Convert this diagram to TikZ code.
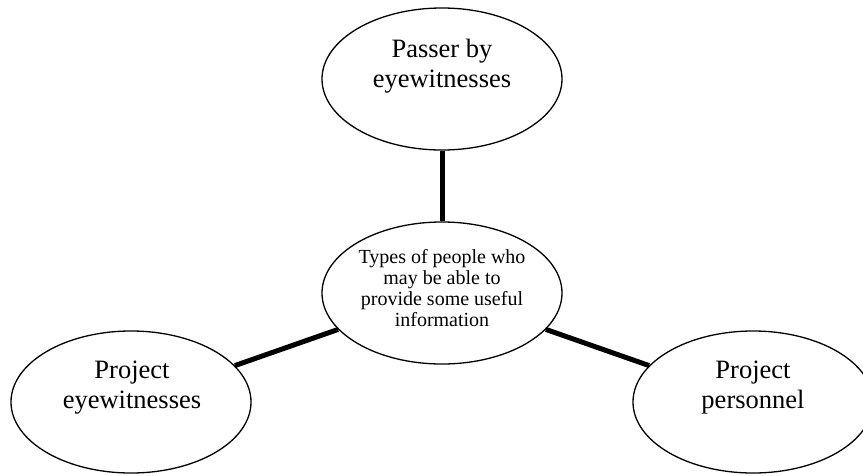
\documentclass[tikz,border=0pt]{standalone}
\usepackage{fontspec}
\setmainfont{Liberation Serif}
\usetikzlibrary{shapes.geometric}
\begin{document}
\begin{tikzpicture}[x=1pt,y=-1pt,
  bubble/.style={ellipse,draw=black,line width=1.3pt,fill=white,
    minimum width=240pt,minimum height=142pt,inner sep=0pt},
  bigtxt/.style={align=center,anchor=base,inner sep=0pt,
    font=\fontsize{26.5}{30}\selectfont},
  smalltxt/.style={align=center,anchor=base,inner sep=0pt,
    font=\fontsize{20}{21}\selectfont},
  link/.style={line width=5pt,black}]
\useasboundingbox (0,0) rectangle (863,475);

% the four bubbles
\node[bubble] (hub)     at (442,293) {};
\node[bubble] (passer)  at (442,79) {};
\node[bubble] (projeye) at (131,402) {};
\node[bubble] (projper) at (753,402) {};

% spokes from the central bubble, cut at the outlines
\draw[link] (passer) -- (hub);
\draw[link] (projeye) -- (hub);
\draw[link] (projper) -- (hub);

% labels (anchored at the baseline of their last line)
\node[smalltxt] (hubT) at (442,326) {Types of people who\\may be able to\\provide some useful\\information};
\node[bigtxt] (passerT) at (442,87) {Passer by\\eyewitnesses};
\node[bigtxt] (projeyeT) at (132,408) {Project\\eyewitnesses};
\node[bigtxt] (projperT) at (753,408) {Project\\personnel};
\end{tikzpicture}
\end{document}
